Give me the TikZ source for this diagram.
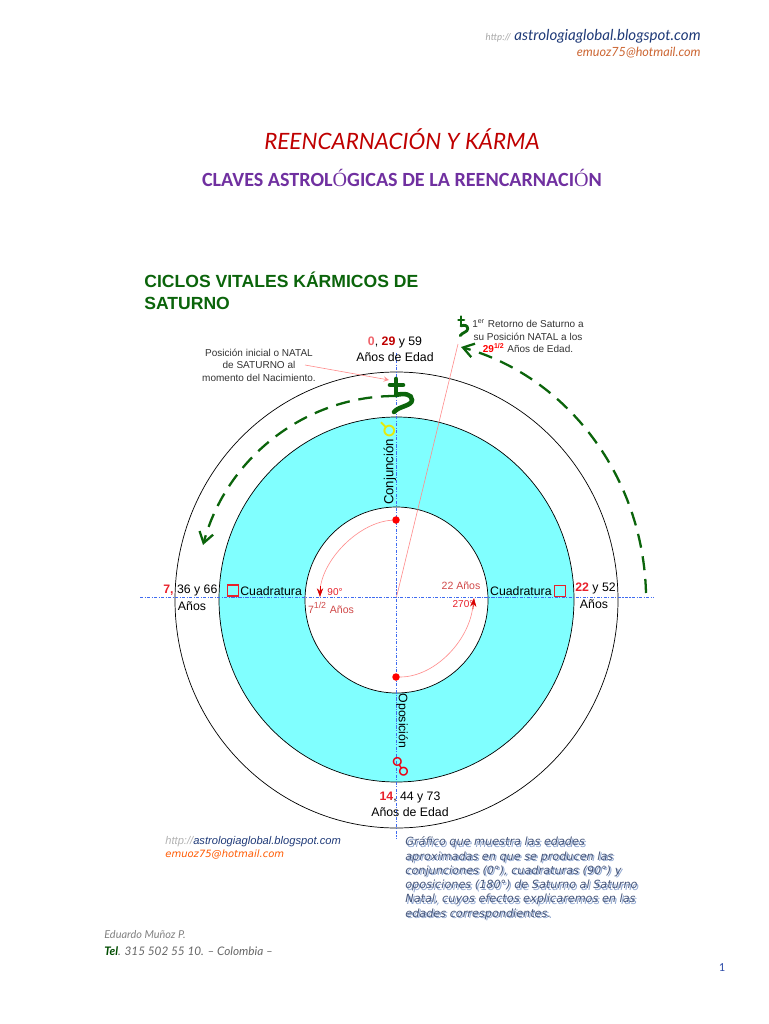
\documentclass[tikz,border=0pt]{standalone}
\usepackage{fontspec}
\usetikzlibrary{arrows.meta}
\setmainfont{Liberation Sans}
\newfontfamily\dejavu{DejaVu Sans}
\newfontfamily\carlito{Carlito}
\newfontfamily\tiempos{Liberation Serif}
\newfontfamily\lato{Lato}
\definecolor{rojo}{HTML}{E8202A}
\definecolor{granate}{HTML}{D04848}
\definecolor{salmon}{HTML}{FF8C8C}
\definecolor{verde}{HTML}{0B640B}
\definecolor{azul}{HTML}{3F6BF0}
\definecolor{celeste}{HTML}{80FFFF}
\definecolor{morado}{HTML}{7030A0}
\definecolor{marino}{HTML}{1F3A78}
\definecolor{pizarra}{HTML}{46567A}
\definecolor{sombra}{HTML}{8FA6D0}
\tikzset{
  etiq/.style={inner sep=0pt,font=\fontsize{7}{9}\selectfont},
  nota/.style={inner sep=0pt,align=center,text=black!80,font=\fontsize{5.7}{7.1}\selectfont},
  roja/.style={inner sep=0pt,text=granate,font=\fontsize{6}{7}\selectfont},
  pie/.style={inner sep=0pt,anchor=west,font=\lato\itshape\fontsize{6.7}{8}\selectfont},
  aviso/.style={inner sep=0pt,anchor=north west,align=left,font=\dejavu\itshape\fontsize{6.4}{8.1}\selectfont},
  cuad/.style={draw=rojo,line width=0.85pt,minimum size=0.22cm,inner sep=0pt},
  punto/.style={circle,fill=red,inner sep=0pt,minimum size=0.15cm},
  camino/.style={verde,line width=1.3pt,dash pattern=on 8pt off 5pt},
  punta/.style={-{Straight Barb[length=6pt,width=8pt]}},
  puntaroja/.style={-{Stealth[length=5pt,width=3.6pt]},red!85!black,line width=0.35pt},
  eje/.style={azul,line width=0.4pt,dash pattern=on 1.8pt off 0.8pt on 0.6pt off 0.8pt},
  saturno/.pic={
    \draw[verde,line width=#1,line cap=round] (-6,-12) -- (7,-12);
    \draw[verde,line width=#1,line cap=round] (0,-18) -- (0,-2);
    \draw[verde,line width=#1,line cap=round] (0,-2) .. controls (8,-4) and (16,-3) .. (16,3) .. controls (16,9) and (3,9) .. (-2,15);
  },
}
\begin{document}
\begin{tikzpicture}[x=0.02cm,y=-0.02cm]
\useasboundingbox (0,0) rectangle (768,1024);
% cabecera
\node[inner sep=0pt,anchor=east,font=\lato\itshape\fontsize{8.6}{10}\selectfont] (web) at (701,36) {\textcolor{black!35}{\fontsize{5.5}{7}\selectfont http://} \textcolor{marino}{astrologiaglobal.blogspot.com}};
\node[inner sep=0pt,anchor=east,text=brown!80!red,font=\lato\itshape\fontsize{7.2}{9}\selectfont] (correo) at (701,53) {emuoz75@hotmail.com};
\node[inner sep=0pt,text=red!75!black,font=\lato\itshape\fontsize{12.8}{14}\selectfont] (titulo) at (402,139) {REENCARNACIÓN Y KÁRMA};
\node[inner sep=0pt,text=morado,font=\carlito\bfseries\fontsize{11.45}{13}\selectfont] (subtitulo) at (402,178) {CLAVES ASTROL{\tiempos\mdseries Ó}GICAS DE LA REENCARNACI{\tiempos\mdseries Ó}N};
\node[inner sep=0pt,anchor=west,align=left,text=verde,font=\bfseries\fontsize{10}{12.4}\selectfont] (ciclos) at (144,291) {CICLOS VITALES KÁRMICOS DE\\SATURNO};
% anillos
\draw[line width=0.4pt] (396.5,600) ellipse (221.5 and 228);
\draw[fill=celeste,line width=0.4pt] (396.5,599.5) ellipse (177.5 and 182.5);
\draw[fill=white,line width=0.4pt] (396.5,600) ellipse (91.5 and 93);
% ejes
\coordinate (arriba) at (396.5,353);
\coordinate (abajo) at (396.5,838);
\coordinate (izq) at (140,597);
\coordinate (der) at (654,597);
\draw[eje] (arriba) -- (abajo);
\draw[eje] (izq) -- (der);
% lineas rosas
\coordinate (centro) at (396.5,597);
\coordinate (retorno) at (458,344);
\coordinate (natalfin) at (389,380);
\draw[salmon,line width=0.35pt] (centro) -- (retorno);
% caminos de Saturno
\coordinate (satini) at (395,396);
\coordinate (satizq) at (203,545);
\coordinate (satder) at (646,593);
\coordinate (satfin) at (461,347);
\draw[camino,punta] (satini) .. controls (306,396) and (227,457) .. (satizq);
\draw[camino,punta] (satder) .. controls (643,477) and (568,377) .. (satfin);
% puntos y arcos rojos
\node[punto] (conj) at (396,520) {};
\node[punto] (opos) at (396,677) {};
\coordinate (noventa) at (320,597);
\coordinate (doscientos) at (474,598);
\draw[salmon,line width=0.35pt] (conj) .. controls (360,522) and (323,558) .. (320,590);
\draw[salmon,line width=0.35pt] (opos) .. controls (435,677) and (470,640) .. (473,605);
\draw[puntaroja] (320,586) -- (noventa);
\draw[puntaroja] (473,609) -- (doscientos);
% simbolos
\pic at (396,397) {saturno=2.6pt};
\pic[xscale=0.42,yscale=0.58] at (461,327) {saturno=1.6pt};
\node[inner sep=0pt,text=yellow!90!green,rotate=75,font=\dejavu\bfseries\fontsize{13}{15}\selectfont] (simconj) at (388,430) {☌};
\node[inner sep=0pt,text=red!70!purple,rotate=90,font=\dejavu\bfseries\fontsize{12}{14}\selectfont] (simopos) at (401,767) {☍};
\node[cuad] (cuadizq) at (233,590.5) {};
\node[cuad] (cuadder) at (560,591) {};
% textos del circulo
\node[etiq,rotate=90,font=\fontsize{7.5}{9}\selectfont] (conjuncion) at (390,472) {Conjunción};
\node[etiq,rotate=-90] (oposicion) at (402,721) {Oposición};
\node[etiq,anchor=west] (cuadtxt1) at (240,591) {Cuadratura};
\node[etiq,anchor=east] (cuadtxt2) at (552,591) {Cuadratura};
\node[etiq,align=center] (edad0) at (395,349) {\textcolor{rojo!70}{\textbf{0}}, \textcolor{red!75!black}{\textbf{29}} y 59\\Años de Edad};
\node[etiq,align=center] (edad14) at (410,804) {\textcolor{rojo}{\textbf{14}}, 44 y 73\\Años de Edad};
\node[etiq,anchor=west] (edad7) at (163,590) {\textcolor{rojo}{\textbf{7,}} 36 y 66};
\node[etiq] (anos7) at (192,606) {Años};
\node[etiq,anchor=west] (edad22) at (575,588) {\textcolor{rojo}{\textbf{22}} y 52};
\node[etiq] (anos22) at (594,604) {Años};
\node[roja,text=rojo,font=\fontsize{5.7}{7}\selectfont] (grad90) at (335,592) {90°};
\node[roja] (anos712) at (331,608) {7\textsuperscript{1/2} Años};
\node[roja] (anos22b) at (461,586) {22 Años};
\node[roja,text=rojo,font=\fontsize{5.7}{7}\selectfont] (grad270) at (463,604) {270°};
\node[nota] (natal) at (259,365) {Posición inicial o NATAL\\de SATURNO al\\momento del Nacimiento.};
\draw[-stealth,salmon,line width=0.35pt] (305,365) -- (natalfin);
\node[nota] (retornotxt) at (528,336) {1\textsuperscript{er} Retorno de Saturno a\\su Posición NATAL a los\\\textcolor{red}{\textbf{29}\textsuperscript{\textbf{1/2}}} Años de Edad.};
% pie
\node[inner sep=0pt,anchor=west,font=\itshape\fontsize{6.35}{8}\selectfont] (web2) at (165,842) {\textcolor{black!30}{http://}\textcolor{marino}{astrologiaglobal.blogspot.com}};
\node[inner sep=0pt,anchor=west,text=orange!70!red,font=\dejavu\itshape\fontsize{5.7}{7}\selectfont] (correo2) at (165,855) {emuoz75@hotmail.com};
\node[aviso,text=sombra] (avisosombra) at (406.5,838) {Gráfico que muestra las edades\\aproximadas en que se producen las\\conjunciones (0°), cuadraturas (90°) y\\oposiciones (180°) de Saturno al Saturno\\Natal, cuyos efectos explicaremos en las\\edades correspondientes.};
\node[aviso,text=pizarra] (aviso) at (405,836.5) {Gráfico que muestra las edades\\aproximadas en que se producen las\\conjunciones (0°), cuadraturas (90°) y\\oposiciones (180°) de Saturno al Saturno\\Natal, cuyos efectos explicaremos en las\\edades correspondientes.};
\node[pie,text=black!50,font=\lato\itshape\fontsize{6.2}{8}\selectfont] (autor) at (104,935) {Eduardo Muñoz P.};
\node[pie,text=black!60] (tel) at (104,951) {\textcolor{green!30!black}{\textbf{Tel}}. 315 502 55 10. – Colombia –};
\node[inner sep=0pt,text=azul!70!black,font=\carlito\fontsize{7}{9}\selectfont] (pagina) at (722,968) {1};
\end{tikzpicture}
\end{document}
